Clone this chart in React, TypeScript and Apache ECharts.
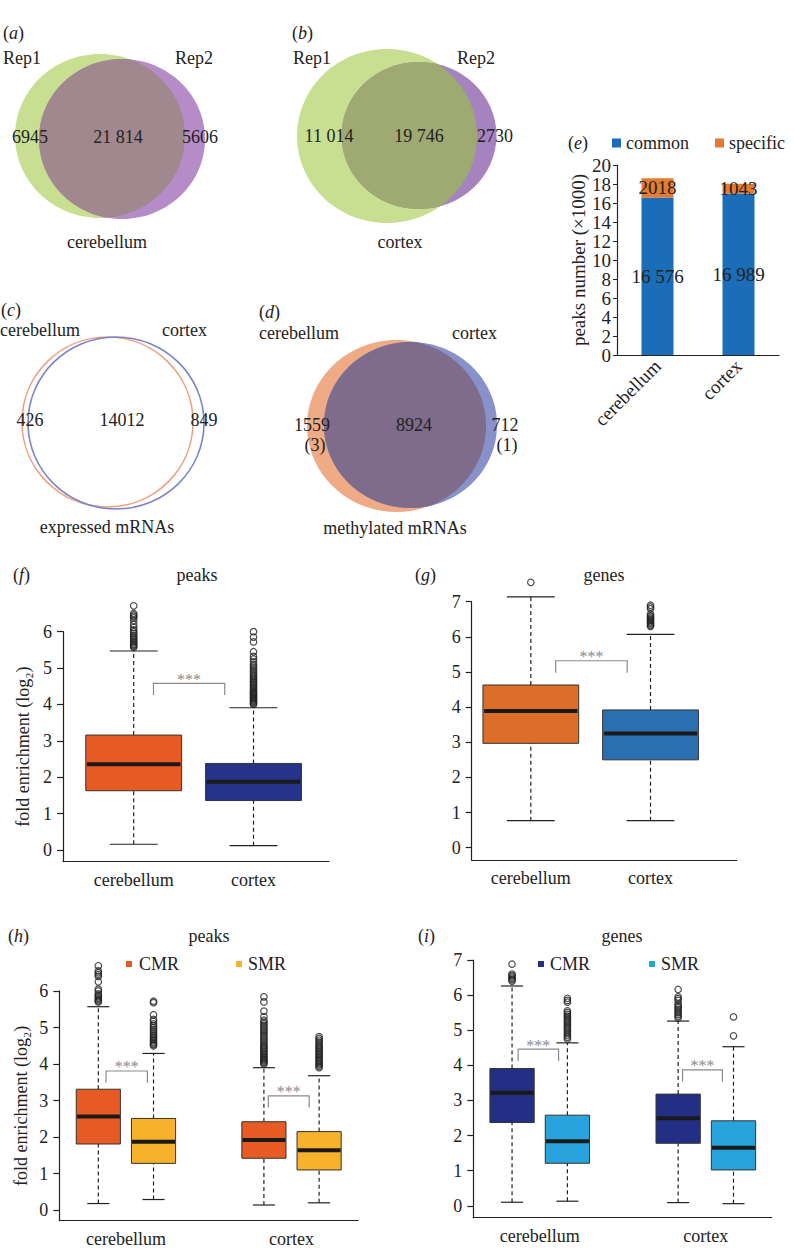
import React, { useEffect, useRef } from 'react';
import * as echarts from 'echarts';

const FONT = '"Liberation Serif", "Times New Roman", serif';
const INK = '#222';
const FS = 18; // general font size
const FSE = 19; // panel (e) font size

// ---------- data ----------
// Venn counts: [left only, both, right only]
const vennACounts = [6945, 21814, 5606];
const vennBCounts = [11014, 19746, 2730];
const vennCCounts = [426, 14012, 849];
const vennDCounts = [1559, 8924, 712];
const vennDExtra = [3, 1];
const vennABLabels = ['Rep1', 'Rep2'];
const vennCDLabels = ['cerebellum', 'cortex'];

// (e) stacked bars
const eCategories = ['cerebellum', 'cortex'];
const eCommon = [16576, 16989];
const eSpecific = [2018, 1043];

// box stats: [low whisker, Q1, median, Q3, high whisker]
const fStats = [[0.16, 1.63, 2.36, 3.16, 5.47], [0.12, 1.36, 1.88, 2.38, 3.91]];
const gStats = [[0.77, 2.97, 3.89, 4.63, 7.14], [0.77, 2.5, 3.25, 3.92, 6.07]];
const hStats = [
  [0.18, 1.81, 2.56, 3.31, 5.57],
  [0.29, 1.28, 1.87, 2.51, 4.29],
  [0.14, 1.42, 1.92, 2.42, 3.9],
  [0.2, 1.1, 1.64, 2.15, 3.68],
];
const iStats = [
  [0.1, 2.37, 3.22, 3.91, 6.26],
  [0.13, 1.21, 1.84, 2.58, 4.64],
  [0.09, 1.78, 2.49, 3.18, 5.26],
  [0.06, 1.02, 1.65, 2.42, 4.53],
];

// outliers
const fCerebOut = [5.57, 5.6, 5.63, 5.66, 5.7, 5.74, 5.78, 5.82, 5.86, 5.9, 5.95, 6.0, 6.05, 6.12, 6.2, 6.3, 6.38, 6.42, 6.46, 6.5, 6.71];
const fCortexOut = [4.0, 4.03, 4.06, 4.09, 4.12, 4.15, 4.18, 4.21, 4.24, 4.27, 4.3, 4.33, 4.36, 4.4, 4.44, 4.48, 4.52, 4.56, 4.6, 4.64, 4.68, 4.72, 4.76, 4.8, 4.85, 4.9, 4.95, 5.0, 5.05, 5.1, 5.17, 5.25, 5.32, 5.45, 5.72, 5.85, 6.0];
const gCerebOut = [7.55];
const gCortexOut = [6.3, 6.33, 6.37, 6.4, 6.43, 6.47, 6.5, 6.53, 6.57, 6.6, 6.65, 6.8, 6.85, 6.9];
const hCmrCerebOut = [5.7, 5.73, 5.76, 5.8, 5.84, 5.88, 5.92, 6.0, 6.05, 6.25, 6.4, 6.45, 6.5, 6.55, 6.69];
const hSmrCerebOut = [4.5, 4.53, 4.56, 4.6, 4.64, 4.68, 4.72, 4.76, 4.8, 4.85, 4.9, 4.95, 5.0, 5.05, 5.1, 5.17, 5.22, 5.35, 5.68, 5.72];
const hCmrCortexOut = [4.0, 4.03, 4.06, 4.09, 4.12, 4.15, 4.18, 4.22, 4.26, 4.3, 4.34, 4.38, 4.42, 4.46, 4.5, 4.55, 4.6, 4.65, 4.7, 4.75, 4.8, 4.85, 4.9, 4.95, 5.0, 5.05, 5.1, 5.15, 5.2, 5.3, 5.45, 5.7, 5.84];
const hSmrCortexOut = [3.9, 3.94, 3.98, 4.02, 4.06, 4.1, 4.14, 4.18, 4.22, 4.26, 4.3, 4.34, 4.38, 4.42, 4.46, 4.5, 4.55, 4.6, 4.65, 4.7, 4.75];
const iCmrCerebOut = [6.4, 6.44, 6.48, 6.52, 6.56, 6.6, 6.88];
const iSmrCerebOut = [4.75, 4.8, 4.85, 4.9, 4.95, 5.0, 5.05, 5.1, 5.15, 5.2, 5.25, 5.3, 5.35, 5.4, 5.45, 5.5, 5.55, 5.8, 5.85, 5.91];
const iCmrCortexOut = [5.35, 5.4, 5.45, 5.5, 5.55, 5.6, 5.65, 5.7, 5.75, 5.85, 5.9, 5.95, 6.16];
const iSmrCortexOut = [4.84, 5.38];

// significance brackets: [x left, x right, top y, end y]
const fBrackets = [[1.165, 1.76, 4.58, 4.26]];
const gBrackets = [[1.208, 1.805, 5.32, 4.98]];
const hBrackets = [[1.14, 1.89, 3.81, 3.49], [4.08, 4.82, 3.13, 2.81]];
const iBrackets = [[1.11, 1.84, 4.46, 4.12], [4.08, 4.8, 3.87, 3.53]];

const groupLabels = ['cerebellum', 'cortex'];
const legendNames = ['CMR', 'SMR'];
const ticks6 = [0, 1, 2, 3, 4, 5, 6];
const ticks7 = [0, 1, 2, 3, 4, 5, 6, 7];

// ---------- helpers ----------
const fmt = (n: number) => (n >= 10000 ? String(n).replace(/\B(?=(\d{3})+(?!\d))/g, ' ') : String(n));

type Ell = { cx: number; cy: number; rx: number; ry: number };
function ellPts(e: Ell, n = 360) {
  const p: number[][] = [];
  for (let i = 0; i < n; i++) {
    const t = (2 * Math.PI * i) / n;
    p.push([e.cx + e.rx * Math.cos(t), e.cy + e.ry * Math.sin(t)]);
  }
  return p;
}
const inside = (e: Ell, p: number[]) => ((p[0] - e.cx) / e.rx) ** 2 + ((p[1] - e.cy) / e.ry) ** 2 <= 1;
function lens(a: Ell, b: Ell) {
  const pts = ellPts(a).filter((p) => inside(b, p)).concat(ellPts(b).filter((p) => inside(a, p)));
  const mx = pts.reduce((s, p) => s + p[0], 0) / pts.length;
  const my = pts.reduce((s, p) => s + p[1], 0) / pts.length;
  pts.sort((p, q) => Math.atan2(p[1] - my, p[0] - mx) - Math.atan2(q[1] - my, q[0] - mx));
  return pts;
}

function T(text: string, x: number, y: number, align = 'left', size = FS, fill = INK) {
  return {
    type: 'text',
    x,
    y,
    style: { text, fontSize: size, fontFamily: FONT, fill, align, verticalAlign: 'middle' },
  };
}
function PL(letter: string, x: number, y: number) {
  return {
    type: 'text',
    x,
    y,
    style: {
      text: `{n|(}{i|${letter}}{n|)}`,
      align: 'left',
      verticalAlign: 'middle',
      rich: {
        n: { fontSize: FS, fontFamily: FONT, fill: INK },
        i: { fontSize: FS, fontFamily: FONT, fill: INK, fontStyle: 'italic' },
      },
    },
  };
}
function E(e: Ell, fill: string, stroke?: string) {
  return {
    type: 'ellipse',
    shape: { ...e },
    style: stroke ? { fill: 'none', stroke, lineWidth: 1.6 } : { fill },
  };
}
function LensEl(a: Ell, b: Ell, fill: string) {
  return { type: 'polygon', shape: { points: lens(a, b) }, style: { fill } };
}

const BOX_W = 0.8;
const CAP_W = 0.4;

function boxRender(params: any, api: any) {
  const x = api.value(0);
  const lo = api.value(1), q1 = api.value(2), md = api.value(3), q3 = api.value(4), hi = api.value(5);
  const c = (xx: number, yy: number) => api.coord([xx, yy]);
  const fill = api.visual('color');
  const seg = (x1: number, y1: number, x2: number, y2: number, style: any) => {
    const a = c(x1, y1), b = c(x2, y2);
    return { type: 'line', shape: { x1: a[0], y1: a[1], x2: b[0], y2: b[1] }, style };
  };
  const dash = { stroke: INK, lineWidth: 1.2, lineDash: [4, 3] };
  const solid = { stroke: INK, lineWidth: 1.2 };
  const tl = c(x - BOX_W / 2, q3), br = c(x + BOX_W / 2, q1);
  return {
    type: 'group',
    children: [
      seg(x, q3, x, hi, dash),
      seg(x, lo, x, q1, dash),
      seg(x - CAP_W / 2, hi, x + CAP_W / 2, hi, solid),
      seg(x - CAP_W / 2, lo, x + CAP_W / 2, lo, solid),
      { type: 'rect', shape: { x: tl[0], y: tl[1], width: br[0] - tl[0], height: br[1] - tl[1] }, style: { fill, stroke: '#333', lineWidth: 1 } },
      seg(x - BOX_W / 2 + 0.01, md, x + BOX_W / 2 - 0.01, md, { stroke: '#1a1a1a', lineWidth: 4 }),
    ],
  };
}

function bracketRender(params: any, api: any) {
  const x1 = api.value(0), x2 = api.value(1), yt = api.value(2), ye = api.value(3);
  const a = api.coord([x1, ye]), b = api.coord([x1, yt]), cc = api.coord([x2, yt]), d = api.coord([x2, ye]);
  return {
    type: 'group',
    children: [
      { type: 'polyline', shape: { points: [a, b, cc, d] }, style: { stroke: '#8a8a8a', lineWidth: 1.2, fill: 'none' } },
      {
        type: 'text',
        x: (b[0] + cc[0]) / 2,
        y: b[1] - 4,
        style: { text: '***', fontSize: 16, fontFamily: FONT, fill: '#8a8a8a', align: 'center', verticalAlign: 'middle' },
      },
    ],
  };
}

// ---------- panel layout ----------
const boxPanels = [
  {
    grid: { left: 63, top: 631.7, width: 266, height: 230 },
    xMin: 0.41, xMax: 2.63, yMin: -0.32, yMax: 6, ticks: ticks6,
    pos: [1, 2], labelPos: [1, 2], stats: fStats,
    colors: ['#e85a24', '#25338a'], outliers: [fCerebOut, fCortexOut], brackets: fBrackets,
    yName: true, nameGap: 31,
  },
  {
    grid: { left: 471.7, top: 601.7, width: 265, height: 258.3 },
    xMin: 0.506, xMax: 2.72, yMin: -0.35, yMax: 7, ticks: ticks7,
    pos: [1, 2], labelPos: [1, 2], stats: gStats,
    colors: ['#dd6e2a', '#2a6fb0'], outliers: [gCerebOut, gCortexOut], brackets: gBrackets,
    yName: false, nameGap: 30,
  },
  {
    grid: { left: 59.3, top: 991, width: 299, height: 229.7 },
    xMin: 0.293, xMax: 5.71, yMin: -0.29, yMax: 6, ticks: ticks6,
    pos: [1, 2, 4, 5], labelPos: [1.5, 4.5], stats: hStats,
    colors: ['#e85a24', '#f5b22a', '#e85a24', '#f5b22a'],
    outliers: [hCmrCerebOut, hSmrCerebOut, hCmrCortexOut, hSmrCortexOut], brackets: hBrackets,
    yName: true, nameGap: 29,
  },
  {
    grid: { left: 473.3, top: 960, width: 298.4, height: 257.7 },
    xMin: 0.3, xMax: 5.69, yMin: -0.34, yMax: 7, ticks: ticks7,
    pos: [1, 2, 4, 5], labelPos: [1.5, 4.5], stats: iStats,
    colors: ['#232f85', '#29a3dc', '#232f85', '#29a3dc'],
    outliers: [iCmrCerebOut, iSmrCerebOut, iCmrCortexOut, iSmrCortexOut], brackets: iBrackets,
    yName: false, nameGap: 30,
  },
];

function buildOption() {
  const grids: any[] = [{ left: 617, top: 165, width: 162, height: 190 }];
  const xAxes: any[] = [
    {
      gridIndex: 0,
      type: 'category',
      data: eCategories,
      axisLine: { lineStyle: { color: INK, width: 1.2 } },
      axisTick: { show: false },
      axisLabel: { rotate: 45, fontSize: FSE, color: INK, fontFamily: FONT, margin: 8 },
    },
  ];
  const yAxes: any[] = [
    {
      gridIndex: 0,
      type: 'value',
      min: 0,
      max: 20,
      interval: 2,
      name: 'peaks number (×1000)',
      nameLocation: 'middle',
      nameGap: 29,
      nameTextStyle: { fontSize: FSE, color: INK, fontFamily: FONT },
      axisLine: { show: true, lineStyle: { color: INK, width: 1.2 } },
      axisTick: { show: true, length: 4, lineStyle: { color: INK } },
      axisLabel: { fontSize: FSE, color: INK, fontFamily: FONT, margin: 6 },
      splitLine: { show: false },
    },
  ];
  const series: any[] = [
    {
      name: 'common',
      type: 'bar',
      stack: 'e',
      xAxisIndex: 0,
      yAxisIndex: 0,
      barWidth: 32,
      data: eCommon.map((v) => v / 1000),
      itemStyle: { color: '#1c6db7' },
      label: { show: true, position: 'inside', formatter: (p: any) => fmt(eCommon[p.dataIndex]), color: INK, fontSize: FSE, fontFamily: FONT },
    },
    {
      name: 'specific',
      type: 'bar',
      stack: 'e',
      xAxisIndex: 0,
      yAxisIndex: 0,
      barWidth: 32,
      data: eSpecific.map((v) => v / 1000),
      itemStyle: { color: '#e57b30' },
      label: { show: true, position: 'inside', formatter: (p: any) => fmt(eSpecific[p.dataIndex]), color: INK, fontSize: FSE, fontFamily: FONT },
    },
  ];

  boxPanels.forEach((p, k) => {
    const gi = k + 1;
    grids.push(p.grid);
    xAxes.push({
      gridIndex: gi,
      type: 'value',
      min: p.xMin,
      max: p.xMax,
      axisLine: { show: true, onZero: false, lineStyle: { color: INK, width: 1.2 } },
      axisTick: { show: false },
      splitLine: { show: false },
      axisLabel: {
        customValues: p.labelPos,
        formatter: (v: number) => groupLabels[p.labelPos.indexOf(v)] ?? '',
        fontSize: FS,
        color: INK,
        fontFamily: FONT,
        margin: 9,
      },
    });
    yAxes.push({
      gridIndex: gi,
      type: 'value',
      min: p.yMin,
      max: p.yMax,
      name: p.yName ? 'fold enrichment (log₂)' : '',
      nameLocation: 'middle',
      nameGap: p.nameGap,
      nameTextStyle: { fontSize: FS, color: INK, fontFamily: FONT },
      axisLine: { show: true, onZero: false, lineStyle: { color: INK, width: 1.2 } },
      axisTick: { show: true, customValues: p.ticks, length: 6, lineStyle: { color: INK, width: 1.2 } },
      axisLabel: { customValues: p.ticks, fontSize: FS, color: INK, fontFamily: FONT, margin: 11 },
      splitLine: { show: false },
    });
    series.push({
      type: 'custom',
      xAxisIndex: gi,
      yAxisIndex: gi,
      renderItem: boxRender,
      clip: false,
      data: p.stats.map((s, j) => ({ value: [p.pos[j], ...s], itemStyle: { color: p.colors[j] } })),
      silent: true,
    });
    const outPts: number[][] = [];
    p.outliers.forEach((arr, j) => arr.forEach((v) => outPts.push([p.pos[j], v])));
    series.push({
      type: 'scatter',
      xAxisIndex: gi,
      yAxisIndex: gi,
      symbol: 'circle',
      symbolSize: 6.5,
      clip: false,
      itemStyle: { color: 'rgba(0,0,0,0)', borderColor: INK, borderWidth: 1.2 },
      data: outPts,
      silent: true,
    });
    series.push({
      type: 'custom',
      xAxisIndex: gi,
      yAxisIndex: gi,
      renderItem: bracketRender,
      clip: false,
      data: p.brackets,
      silent: true,
    });
  });

  // Venn geometry (layout)
  const aL: Ell = { cx: 100, cy: 136, rx: 85, ry: 82 };
  const aR: Ell = { cx: 122, cy: 139, rx: 83, ry: 80 };
  const bL: Ell = { cx: 387, cy: 136, rx: 90, ry: 87 };
  const bR: Ell = { cx: 419, cy: 135.5, rx: 77.5, ry: 73.5 };
  const cL: Ell = { cx: 107.5, cy: 422, rx: 85.5, ry: 85 };
  const cR: Ell = { cx: 116, cy: 423, rx: 88, ry: 86 };
  const dL: Ell = { cx: 396.5, cy: 426, rx: 89.5, ry: 86 };
  const dR: Ell = { cx: 410.5, cy: 425, rx: 86.5, ry: 83 };

  const graphic: any[] = [
    // (a)
    E(aL, '#c8df92'), E(aR, '#b58cc8'), LensEl(aL, aR, '#a0888e'),
    PL('a', 3, 33), T(vennABLabels[0], 3, 58), T(vennABLabels[1], 175, 58),
    T(fmt(vennACounts[0]), 30, 137, 'center'), T(fmt(vennACounts[1]), 118, 137, 'center'), T(fmt(vennACounts[2]), 200, 137, 'center'),
    T('cerebellum', 107, 242, 'center'),
    // (b)
    E(bL, '#c8df92'), E(bR, '#a583be'), LensEl(bL, bR, '#9eaa72'),
    PL('b', 292, 33), T(vennABLabels[0], 293, 58), T(vennABLabels[1], 457, 58),
    T(fmt(vennBCounts[0]), 329, 136, 'center'), T(fmt(vennBCounts[1]), 419, 136, 'center'), T(fmt(vennBCounts[2]), 495, 136, 'center'),
    T('cortex', 400, 242, 'center'),
    // (c)
    E(cL, '', '#f0a07f'), E(cR, '', '#7b84c9'),
    PL('c', 1, 310), T(vennCDLabels[0], 0, 330), T(vennCDLabels[1], 162, 330),
    T(String(vennCCounts[0]), 30, 420, 'center'), T(String(vennCCounts[1]), 122, 420, 'center'), T(String(vennCCounts[2]), 204, 420, 'center'),
    T('expressed mRNAs', 107, 527, 'center'),
    // (d)
    E(dL, '#eeab86'), E(dR, '#8891c9'), LensEl(dL, dR, '#7f6b8b'),
    PL('d', 259, 312), T(vennCDLabels[0], 259, 333), T(vennCDLabels[1], 452, 333),
    T(String(vennDCounts[0]), 312, 425, 'center'), T(`(${vennDExtra[0]})`, 315, 445, 'center'),
    T(String(vennDCounts[1]), 414, 425, 'center'),
    T(String(vennDCounts[2]), 505, 425, 'center'), T(`(${vennDExtra[1]})`, 507, 445, 'center'),
    T('methylated mRNAs', 395, 528, 'center'),
    // (e)
    PL('e', 568, 143),
    // (f)
    PL('f', 13, 575), T('peaks', 197, 575, 'center'),
    // (g)
    PL('g', 415, 575), T('genes', 604, 575, 'center'),
    // (h)
    PL('h', 8, 936), T('peaks', 209, 936, 'center'),
    { type: 'rect', shape: { x: 126, y: 961, width: 6, height: 6 }, style: { fill: '#e85a24' } },
    T(legendNames[0], 139, 964, 'left', FS),
    { type: 'rect', shape: { x: 236, y: 961, width: 6, height: 6 }, style: { fill: '#f5b22a' } },
    T(legendNames[1], 248, 964, 'left', FS),
    // (i)
    PL('i', 418, 936), T('genes', 622, 936, 'center'),
    { type: 'rect', shape: { x: 538, y: 961, width: 6, height: 6 }, style: { fill: '#232f85' } },
    T(legendNames[0], 550, 964, 'left', FS),
    { type: 'rect', shape: { x: 649, y: 961, width: 6, height: 6 }, style: { fill: '#29a3dc' } },
    T(legendNames[1], 661, 964, 'left', FS),
  ];

  return {
    animation: false,
    backgroundColor: '#ffffff',
    textStyle: { fontFamily: FONT },
    legend: {
      data: ['common', 'specific'],
      orient: 'horizontal',
      left: 612,
      top: 134,
      width: 260,
      icon: 'rect',
      itemWidth: 9,
      itemHeight: 9,
      itemGap: 26,
      padding: 0,
      textStyle: { fontSize: 18, color: INK, fontFamily: FONT },
      selectedMode: false,
    },
    grid: grids,
    xAxis: xAxes,
    yAxis: yAxes,
    series,
    graphic,
  };
}

export default function App() {
  const ref = useRef<HTMLDivElement>(null);
  useEffect(() => {
    if (!ref.current) return;
    const chart = echarts.init(ref.current, undefined, { renderer: 'svg' });
    chart.setOption(buildOption() as any);
    return () => chart.dispose();
  }, []);
  return (
    <div
      ref={ref}
      style={{ position: 'absolute', left: 0, top: 0, width: 794, height: 1259, background: '#fff' }}
    />
  );
}
